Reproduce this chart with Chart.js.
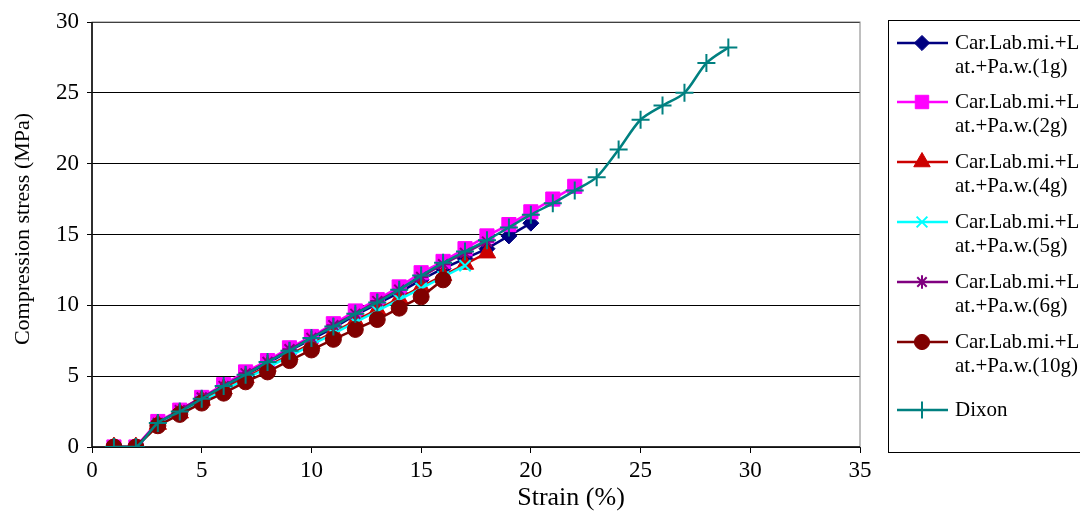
<!DOCTYPE html>
<html lang="en">
  <head>
    <meta charset="UTF-8" />
    <script src="https://cdn.jsdelivr.net/npm/chart.js"></script>
    <title>Compression stress vs strain</title>
    <style>
      body {
        margin: 0;
        background: white;
      }
      canvas {
        display: block;
      }
    </style>
  </head>
  <body>
    <canvas id="myChart" width="1080" height="511"></canvas>
  </body>
</html>
<script>
  // strain (%) values, one per reading
  const strain = [1, 2, 3, 4, 5, 6, 7, 8, 9, 10, 11, 12, 13, 14, 15, 16, 17, 18, 19, 20, 21, 22, 23, 24, 25, 26, 27, 28, 29];

  // compression stress (MPa) per series
  const stress1g = [0, 0, 1.7, 2.5, 3.4, 4.2, 5.1, 5.9, 6.8, 7.6, 8.4, 9.3, 10.1, 10.9, 11.8, 12.6, 13.3, 14.0, 14.9, 15.8];
  const stress2g = [0, 0, 1.8, 2.6, 3.5, 4.4, 5.3, 6.1, 7.0, 7.8, 8.7, 9.6, 10.4, 11.3, 12.3, 13.1, 14.0, 14.9, 15.7, 16.6, 17.5, 18.4];
  const stress4g = [0, 0, 1.6, 2.4, 3.3, 4.1, 4.9, 5.7, 6.5, 7.3, 8.1, 8.9, 9.7, 10.5, 11.3, 12.1, 12.9, 13.7];
  const stress5g = [0, 0, 1.6, 2.3, 3.2, 4.0, 4.8, 5.6, 6.4, 7.2, 8.0, 8.8, 9.6, 10.4, 11.2, 12.0, 12.8];
  const stress6g = [0, 0, 1.7, 2.6, 3.5, 4.3, 5.2, 6.0, 6.9, 7.7, 8.6, 9.4, 10.3, 11.1, 12.0, 12.9, 13.7, 14.5];
  const stress10g = [0, 0, 1.5, 2.3, 3.1, 3.8, 4.6, 5.3, 6.1, 6.85, 7.6, 8.3, 9.0, 9.8, 10.6, 11.8];
  const stressDixon = [0, 0, 1.7, 2.5, 3.4, 4.3, 5.1, 6.0, 6.8, 7.7, 8.5, 9.4, 10.2, 11.1, 12.1, 13.0, 13.8, 14.6, 15.5, 16.4, 17.2, 18.1, 19.05, 21.0, 23.1, 24.1, 25.0, 27.1, 28.2];

  const seriesLabels = [
    ["Car.Lab.mi.+L", "at.+Pa.w.(1g)"],
    ["Car.Lab.mi.+L", "at.+Pa.w.(2g)"],
    ["Car.Lab.mi.+L", "at.+Pa.w.(4g)"],
    ["Car.Lab.mi.+L", "at.+Pa.w.(5g)"],
    ["Car.Lab.mi.+L", "at.+Pa.w.(6g)"],
    ["Car.Lab.mi.+L", "at.+Pa.w.(10g)"],
    ["Dixon"],
  ];

  const xTicks = [0, 5, 10, 15, 20, 25, 30, 35];
  const yTicks = [0, 5, 10, 15, 20, 25, 30];

  const FONT = "'Liberation Serif', 'Times New Roman', serif";

  function points(values) {
    return values.map((v, i) => ({ x: strain[i], y: v }));
  }

  const styles = [
    { color: "#000080", style: "rectRot", radius: 8 },
    { color: "#FF00FF", style: "rect", radius: 10 },
    { color: "#CC0000", style: "triangle", radius: 10 },
    { color: "#00FFFF", style: "crossRot", radius: 8 },
    { color: "#800080", style: "star", radius: 7 },
    { color: "#800000", style: "circle", radius: 8 },
    { color: "#008080", style: "cross", radius: 9 },
  ];
  const allValues = [stress1g, stress2g, stress4g, stress5g, stress6g, stress10g, stressDixon];

  const datasets = allValues.map((vals, i) => ({
    label: seriesLabels[i].join(""),
    data: points(vals),
    borderColor: styles[i].color,
    backgroundColor: styles[i].color,
    pointBorderColor: styles[i].color,
    pointBackgroundColor: styles[i].color,
    pointStyle: styles[i].style,
    pointRadius: styles[i].radius,
    pointBorderWidth: styles[i].style.indexOf("cross") === 0 || styles[i].style === "star" ? 2 : 1,
    borderWidth: 2.5,
    tension: i === 6 ? 0.3 : 0,
    order: 6 - i, // later series drawn on top, as in the original
  }));

  // plot border, axis titles (placed like the original) and two-line legend
  const frame = {
    id: "frame",
    beforeDatasetsDraw(chart) {
      const { ctx, chartArea: a } = chart;
      ctx.save();
      ctx.strokeStyle = "#808080";
      ctx.lineWidth = 1;
      ctx.strokeRect(a.left, a.top, a.right - a.left, a.bottom - a.top);
      ctx.strokeStyle = "#000";
      ctx.lineWidth = 1.5;
      ctx.beginPath();
      ctx.moveTo(a.left, a.top);
      ctx.lineTo(a.left, a.bottom);
      ctx.lineTo(a.right, a.bottom);
      ctx.stroke();
      ctx.restore();
    },
    afterDraw(chart) {
      const ctx = chart.ctx;
      ctx.save();
      ctx.fillStyle = "#000";
      ctx.textAlign = "center";
      ctx.textBaseline = "middle";
      ctx.font = "26px " + FONT;
      ctx.fillText("Strain (%)", 571, 498);

      ctx.save();
      ctx.translate(23, 229);
      ctx.rotate(-Math.PI / 2);
      ctx.font = "22px " + FONT;
      ctx.fillText("Compression stress (MPa)", 0, 0);
      ctx.restore();

      ctx.textAlign = "left";
      ctx.strokeStyle = "#000";
      ctx.lineWidth = 1;
      ctx.strokeRect(888.5, 20.5, 200, 432);
      ctx.font = "21px " + FONT;
      const rows = [43, 102, 162, 222, 282, 342, 410];
      datasets.forEach((ds, i) => {
        const y = rows[i];
        ctx.strokeStyle = ds.borderColor;
        ctx.lineWidth = 2.5;
        ctx.beginPath();
        ctx.moveTo(897, y);
        ctx.lineTo(948, y);
        ctx.stroke();
        ctx.fillStyle = ds.borderColor;
        ctx.lineWidth = ds.pointBorderWidth;
        Chart.helpers.drawPoint(ctx, { pointStyle: ds.pointStyle, radius: ds.pointRadius * 0.95, borderWidth: ds.pointBorderWidth }, 922, y);
        ctx.fillStyle = "#000";
        seriesLabels[i].forEach((t, k) => ctx.fillText(t, 955, y + k * 24));
      });
      ctx.restore();
    },
  };

  const ctx = document.getElementById("myChart").getContext("2d");
  const myChart = new Chart(ctx, {
    type: "line",
    data: { datasets: datasets },
    plugins: [frame],
    options: {
      responsive: false,
      animation: false,
      devicePixelRatio: 1,
      layout: { padding: { top: 22, right: 220, left: 0, bottom: 0 } },
      plugins: {
        legend: { display: false },
        tooltip: { enabled: false },
      },
      scales: {
        x: {
          type: "linear",
          min: 0,
          max: 35,
          afterBuildTicks: (s) => (s.ticks = xTicks.map((v) => ({ value: v }))),
          afterFit: (s) => (s.height = 64),
          grid: { drawOnChartArea: false, color: "#000", tickLength: 6 },
          border: { display: false },
          ticks: { color: "#000", font: { family: FONT, size: 23 }, padding: 4, maxRotation: 0 },
        },
        y: {
          min: 0,
          max: 30,
          afterBuildTicks: (s) => (s.ticks = yTicks.map((v) => ({ value: v }))),
          afterFit: (s) => (s.width = 92),
          grid: { color: "#000", lineWidth: 1, tickLength: 5 },
          border: { display: false },
          ticks: { color: "#000", font: { family: FONT, size: 23 }, padding: 8 },
        },
      },
    },
  });
</script>
